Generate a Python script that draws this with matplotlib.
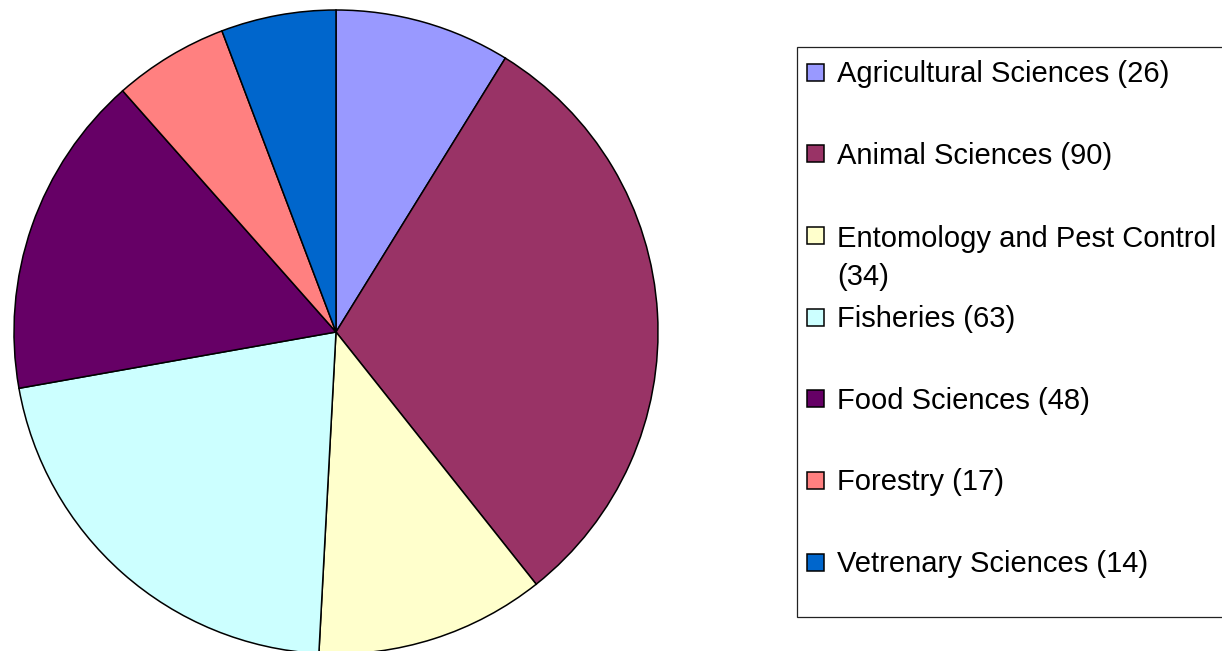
import matplotlib.pyplot as plt
from matplotlib.patches import Rectangle

plt.rcParams['font.family'] = ['Liberation Sans', 'DejaVu Sans']

labels = ['Agricultural Sciences', 'Animal Sciences', 'Entomology and Pest Control',
          'Fisheries', 'Food Sciences', 'Forestry', 'Vetrenary Sciences']
# counts as printed in the legend
legend_counts = [26, 90, 34, 63, 48, 17, 14]
# slice sizes as drawn in the picture (the last slice is drawn wider than its label says)
slice_values = [26, 90, 34, 63, 48, 17, 17]
colors = ['#9999FF', '#993366', '#FFFFCC', '#CCFFFF', '#660066', '#FF8080', '#0066CC']

W, H = 1222, 651
fig = plt.figure(figsize=(W / 100, H / 100), dpi=100)

# pie: centre (336, 332) px, radius 322 px
cx, cy, r = 336, 332, 322
ax = fig.add_axes([(cx - r) / W, (H - cy - r) / H, 2 * r / W, 2 * r / H])
wedges, _ = ax.pie(slice_values, colors=colors, startangle=90, counterclock=False,
                   wedgeprops=dict(edgecolor='black', linewidth=1.1), radius=1)
ax.set_xlim(-1, 1)
ax.set_ylim(-1, 1)
ax.set_aspect('equal')
ax.axis('off')

# legend, drawn by hand to mimic the spreadsheet layout
fig.patches.append(Rectangle((797 / W, 1 - 617 / H), (W + 10 - 797) / W, (617 - 47) / H,
                             transform=fig.transFigure, facecolor='white',
                             edgecolor='#222222', linewidth=0.9, clip_on=False))
step = 81.7
line_h = 40
for i, (lab, n, c) in enumerate(zip(labels, legend_counts, colors)):
    yc = 72 + step * i
    fig.patches.append(Rectangle((807 / W, 1 - (yc + 8.5) / H), 17 / W, 17 / H,
                                 transform=fig.transFigure, facecolor=c,
                                 edgecolor='black', linewidth=1.1))
    text = f'{lab} ({n})'
    extra = 0
    if lab.startswith('Entomology'):
        text = f'{lab}\n({n})'
        extra = line_h
    # baseline of the last line
    fig.text(837 / W, 1 - (yc + 10 + extra) / H, text, fontsize=21, va='baseline',
             ha='left', linespacing=1.49)

fig.savefig('out.png', dpi=100)
